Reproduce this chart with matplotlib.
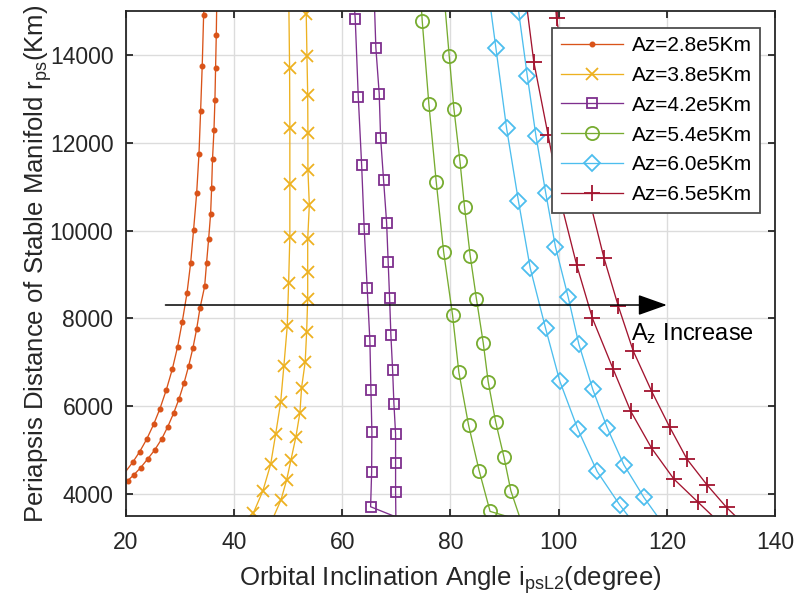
import numpy as np
import matplotlib
matplotlib.use('Agg')
import matplotlib.pyplot as plt

plt.rcParams['font.family'] = ['Liberation Sans', 'DejaVu Sans']
plt.rcParams['mathtext.fontset'] = 'custom'
plt.rcParams['mathtext.rm'] = 'Liberation Sans'
plt.rcParams['mathtext.it'] = 'Liberation Sans'

# każda krzywa: lewa gałąź (góra->dół), punkt złączenia pod osią, prawa gałąź (góra->dół)
# pierwszy punkt każdej gałęzi leży nad osią (bez markera)

# Az = 2.8e5 km
x28_l = [34.5, 34.36, 34.1, 33.8, 33.5, 33.07, 32.5, 31.96, 31.28, 30.41, 29.55,
         28.56, 27.45, 26.28, 25.12, 23.82, 22.53, 21.24]
y28_l = [15300, 14911, 13756, 12718, 11745, 10850, 10014, 9262, 8572, 7925, 7355,
         6840, 6369, 5943, 5588, 5246, 4964, 4722]
x28_r = [36.8, 36.7, 36.57, 36.45, 36.27, 36.0, 35.84, 35.65, 35.28, 34.9, 34.55,
         33.68, 33.07, 32.38, 31.59, 30.72, 29.8, 28.8, 27.7, 26.6, 25.3, 24.0,
         22.7, 21.48, 20.3]
y28_r = [15300, 14462, 13704, 12982, 12285, 11624, 10979, 10380, 9802, 9262, 8731,
         8230, 7759, 7326, 6916, 6522, 6164, 5838, 5526, 5253, 5002, 4797,
         4599, 4440, 4303]
j28 = (18.0, 4200)

# Az = 3.8e5 km
x38_l = [50.1, 50.25, 50.3, 50.3, 50.3, 50.07, 49.82, 49.2, 48.6, 47.67, 46.75, 45.32, 43.53]
y38_l = [15300, 13711, 12329, 11054, 9861, 8800, 7827, 6923, 6089, 5360, 4677, 4075, 3560]
x38_r = [53.3, 53.33, 53.46, 53.6, 53.64, 53.64, 53.9, 53.6, 53.6, 53.6, 53.4, 53.14,
         52.47, 52.16, 51.42, 50.5, 49.7, 48.65, 47.0]
y38_r = [15300, 14934, 13984, 13088, 12216, 11380, 10583, 9802, 9064, 8440, 7683, 7014,
         6421, 5852, 5305, 4774, 4318, 3863, 3400]
j38 = (45.0, 3300)

# Az = 4.2e5 km
x42_l = [62.1, 62.39, 62.95, 63.57, 64.05, 64.6, 65.1, 65.29, 65.47, 65.42, 65.23]
y42_l = [15300, 14820, 13043, 11502, 10036, 8692, 7485, 6369, 5405, 4494, 3711]
x42_r = [65.9, 66.2, 66.82, 67.08, 67.63, 68.19, 68.48, 68.74, 68.98, 69.3, 69.54,
         69.85, 69.85, 69.85]
y42_r = [15300, 14166, 13119, 12116, 11146, 10180, 9278, 8472, 7622, 6818, 6057,
         5367, 4713, 4052]
j42 = (69.9, 3480)

# Az = 5.4e5 km
x54_l = [74.5, 74.77, 76.0, 77.36, 78.73, 80.38, 81.55, 83.34, 85.3, 87.32]
y54_l = [15300, 14781, 12884, 11114, 9519, 8077, 6772, 5572, 4531, 3605]
x54_r = [78.85, 79.76, 80.63, 81.74, 82.6, 83.65, 84.8, 86.05, 86.97, 88.34, 89.87, 91.16]
y54_r = [15300, 13984, 12776, 11592, 10530, 9421, 8442, 7446, 6558, 5647, 4850, 4075]
j54 = (93.0, 3400)

# Az = 6.0e5 km
x60_l = [87.16, 88.4, 90.37, 92.55, 94.75, 97.58, 100.2, 103.55, 107.1, 111.3, 113.5]
y60_l = [15300, 14152, 12329, 10680, 9141, 7774, 6574, 5474, 4517, 3749, 3400]
x60_r = [92.3, 92.6, 94.2, 95.8, 97.6, 99.4, 101.75, 103.74, 106.3, 108.97, 112.05,
         115.75, 118.8]
y60_r = [15300, 14985, 13522, 12155, 10863, 9633, 8490, 7410, 6385, 5510, 4667,
         3925, 3400]
j60 = (116.0, 3200)

# Az = 6.5e5 km (część punktów schowana za legendą)
x65_l = [93.9, 95.4, 98.06, 100.4, 103.35, 106.25, 110.07, 113.3, 117.2, 121.3, 125.8, 129.3]
y65_l = [15300, 13842, 12166, 10650, 9208, 8000, 6847, 5891, 5041, 4342, 3811, 3400]
x65_r = [99.3, 99.6, 101.6, 103.7, 105.8, 108.36, 111.0, 113.77, 117.17, 120.55,
         123.75, 127.45, 131.03, 133.5]
y65_r = [15300, 14834, 13350, 11950, 10650, 9383, 8290, 7264, 6346, 5519,
         4790, 4205, 3697, 3400]
j65 = (131.0, 3200)

labels = ['Az=2.8e5Km', 'Az=3.8e5Km', 'Az=4.2e5Km', 'Az=5.4e5Km', 'Az=6.0e5Km', 'Az=6.5e5Km']
colors = ['#D95319', '#EDB120', '#7E2F8E', '#77AC30', '#4DBEEE', '#A2142F']
markers = ['.', 'x', 's', 'o', 'D', '+']
msizes = [6, 9, 7.5, 9.5, 8.5, 11]

series = [(x28_l, y28_l, j28, x28_r, y28_r),
          (x38_l, y38_l, j38, x38_r, y38_r),
          (x42_l, y42_l, j42, x42_r, y42_r),
          (x54_l, y54_l, j54, x54_r, y54_r),
          (x60_l, y60_l, j60, x60_r, y60_r),
          (x65_l, y65_l, j65, x65_r, y65_r)]

fig = plt.figure(figsize=(8.09, 5.98), dpi=100)
ax = fig.add_axes([0.1557, 0.1371, 0.8023, 0.8445])

for (xl, yl, j, xr, yr), lab, c, m, ms in zip(series, labels, colors, markers, msizes):
    xs = np.r_[xl, j[0], xr[::-1]]
    ys = np.r_[yl, j[1], yr[::-1]]
    n = len(xs)
    nl = len(xl)
    # bez markerów na punktach pomocniczych (początek, złączenie, koniec)
    skip = {0, nl, n - 1}
    if yl[-1] < 3500:
        skip.add(nl - 1)
    if yr[-1] < 3500:
        skip.add(nl + 1)
    idx = [i for i in range(n) if i not in skip]
    ax.plot(xs, ys, color=c, lw=0.95, marker=m, ms=ms, mew=1.3,
            mfc='none' if m not in ('.', 'x', '+') else c, markevery=idx, label=lab)

ax.set_xlim(20, 140)
ax.set_ylim(3500, 15000)
ax.set_xticks(np.arange(20, 141, 20))
ax.set_yticks(np.arange(4000, 14001, 2000))
ax.grid(True, color='#dcdcdc', lw=1.0)
ax.set_axisbelow(True)
for s in ax.spines.values():
    s.set_color('#262626')
    s.set_linewidth(1.3)
ax.tick_params(direction='in', length=5, width=1.3, top=True, right=True,
               labelsize=16.5, colors='#262626')
ax.tick_params(axis='x', pad=11)
ax.tick_params(axis='y', pad=9)

ax.set_xlabel('Orbital Inclination Angle i$_{\\rm psL2}$(degree)', fontsize=18.5,
              color='#262626', labelpad=7)
ax.set_ylabel('Periapsis Distance of Stable Manifold r$_{\\rm ps}$(Km)', fontsize=18.5,
              color='#262626', labelpad=-3)

ax.annotate('', xy=(120, 8305), xytext=(27.3, 8305),
            arrowprops=dict(arrowstyle='-|>,head_length=0.45,head_width=0.16',
                            color='k', lw=1.1, mutation_scale=40, shrinkA=0, shrinkB=0))
ax.text(113.4, 7508, 'A$_{\\rm z}$ Increase', fontsize=17, color='k', va='baseline')

leg = ax.legend(loc='upper right', bbox_to_anchor=(0.977, 0.967), borderaxespad=0,
                fontsize=15, handlelength=3.0, numpoints=1, fancybox=False,
                framealpha=1, edgecolor='#4d4d4d', labelspacing=0.52,
                borderpad=0.4, handletextpad=0.4)
leg.get_frame().set_linewidth(1.3)

fig.savefig('out.png', dpi=100)
